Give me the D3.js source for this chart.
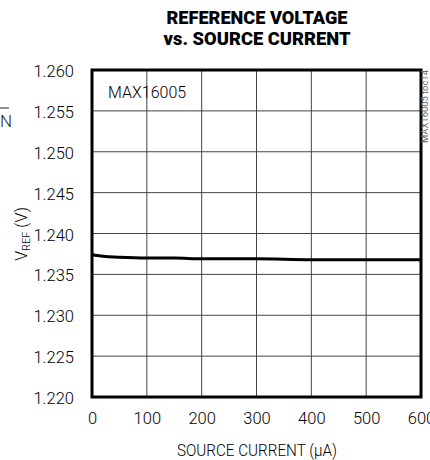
<!DOCTYPE html>
<html><head><meta charset="utf-8">
<script src="https://cdn.jsdelivr.net/npm/d3@7"></script>
<style>
body{margin:0;background:#fff;}
text{font-family:Roboto,"Liberation Sans",sans-serif;}
</style></head>
<body><svg id="c" width="430" height="460"></svg>
<script>
const currents = [0, 10, 25, 50, 100, 150, 200, 300, 400, 500, 600];
const vref = [1.2374, 1.2373, 1.2372, 1.2371, 1.2370, 1.2370, 1.2369, 1.2369, 1.2368, 1.2368, 1.2368];
const xTicks = [0, 100, 200, 300, 400, 500, 600];
const yTicks = [1.220, 1.225, 1.230, 1.235, 1.240, 1.245, 1.250, 1.255, 1.260];
const titleLines = ["REFERENCE VOLTAGE", "vs. SOURCE CURRENT"];
const titleWidths = [181, 187];

const svg = d3.select("#c");
const L = 92, R = 421, T = 70, B = 397;
const x = d3.scaleLinear().domain([0, 600]).range([L, R]);
const y = d3.scaleLinear().domain([1.220, 1.260]).range([B, T]);

// grid
svg.append("g").selectAll("line").data(xTicks.slice(1, -1)).join("line")
  .attr("x1", d => x(d)).attr("x2", d => x(d)).attr("y1", T).attr("y2", B)
  .attr("stroke", "#444").attr("stroke-width", 1);
svg.append("g").selectAll("line").data(yTicks.slice(1, -1)).join("line")
  .attr("y1", d => y(d)).attr("y2", d => y(d)).attr("x1", L).attr("x2", R)
  .attr("stroke", "#444").attr("stroke-width", 1);

// axes labels via d3 axes
const xa = svg.append("g").attr("transform", `translate(0,${B})`)
  .call(d3.axisBottom(x).tickValues(xTicks).tickSize(0).tickPadding(15).tickFormat(d3.format("d")));
xa.select(".domain").remove();
xa.selectAll("text").attr("font-size", 16.5).attr("fill", "#000")
  .style("font-family", 'Roboto,sans-serif').style("font-weight", 300);
const ya = svg.append("g").attr("transform", `translate(${L},0)`)
  .call(d3.axisLeft(y).tickValues(yTicks).tickSize(0).tickPadding(18).tickFormat(d3.format(".3f")));
ya.select(".domain").remove();
ya.selectAll("text").attr("font-size", 16.5).attr("fill", "#000").attr("dy", "0.4em")
  .style("font-family", 'Roboto,sans-serif').style("font-weight", 300);

// frame
svg.append("rect").attr("x", L).attr("y", T).attr("width", R - L).attr("height", B - T)
  .attr("fill", "none").attr("stroke", "#000").attr("stroke-width", 3);

// curve
const line = d3.line().x((d, i) => x(currents[i])).y(d => y(d)).curve(d3.curveMonotoneX);
svg.append("path").datum(vref).attr("d", line).attr("fill", "none")
  .attr("stroke", "#000").attr("stroke-width", 3);

// title
svg.append("g").selectAll("text").data(titleLines).join("text")
  .attr("x", 257).attr("y", (d, i) => 24 + i * 21).attr("text-anchor", "middle")
  .attr("font-size", 18.5).attr("font-weight", 900).attr("fill", "#000")
  .attr("textLength", (d, i) => titleWidths[i]).attr("lengthAdjust", "spacingAndGlyphs")
  .text(d => d);

// x title
svg.append("text").attr("x", 257).attr("y", 456).attr("text-anchor", "middle")
  .attr("font-size", 16).attr("font-weight", 300).attr("fill", "#000")
  .attr("textLength", 160).attr("lengthAdjust", "spacingAndGlyphs")
  .text("SOURCE CURRENT (\u03BCA)");

// y title
const yt = svg.append("text").attr("transform", "translate(27,234) rotate(-90)")
  .attr("text-anchor", "middle").attr("font-size", 16).attr("font-weight", 300).attr("fill", "#000");
yt.append("tspan").text("V");
yt.append("tspan").attr("font-size", 11).attr("dy", 3).text("REF");
yt.append("tspan").attr("dy", -3).text(" (V)");

// annotation
svg.append("text").attr("x", 108).attr("y", 98).attr("font-size", 16).attr("font-weight", 300).attr("fill", "#000").text("MAX16005");

// toc label
svg.append("text").attr("transform", "translate(428,143) rotate(-90)")
  .attr("font-size", 9.5).attr("fill", "#666").attr("textLength", 73).text("MAX16005 toc14");

// cropped fragment
svg.append("text").attr("x", 0).attr("y", 127).attr("font-size", 17).attr("font-weight", 300).attr("fill", "#222").text("N");
svg.append("line").attr("x1", 0).attr("x2", 9).attr("y1", 108).attr("y2", 108).attr("stroke", "#222").attr("stroke-width", 1);
</script></body></html>
